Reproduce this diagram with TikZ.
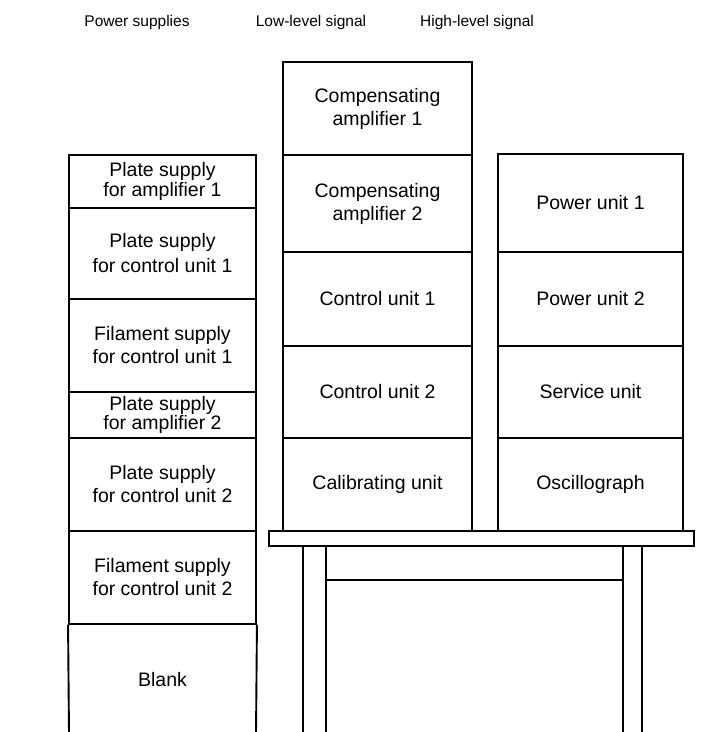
\documentclass[tikz,border=0pt]{standalone}
\usepackage{fontspec}
\setmainfont{Liberation Sans}
\begin{document}
\begin{tikzpicture}[x=1pt,y=-1pt,
  ln/.style={line width=1.9pt},
  unitbox/.style={draw, ln, inner sep=0pt, align=center, font=\fontsize{19.5}{23}\selectfont},
  headtext/.style={inner sep=0pt, font=\fontsize{15.5}{18}\selectfont},
  lcol/.style={unitbox, minimum width=187pt},
  mcol/.style={unitbox, minimum width=189pt},
  rcol/.style={unitbox, minimum width=185pt}]
\useasboundingbox (0,0) rectangle (716,732);
% headers
\node[headtext] (h1) at (137,22) {Power supplies};
\node[headtext] (h2) at (311,22) {Low-level signal};
\node[headtext] (h3) at (477,22) {High-level signal};
% left column: power supplies
\node[lcol, minimum height=53pt, font=\fontsize{19.5}{20}\selectfont] (p1) at (162.5,181.5) {Plate supply\\for amplifier 1};
\node[lcol, minimum height=91pt, font=\fontsize{19.5}{25}\selectfont] (p2) at (162.5,253.5) {Plate supply\\for control unit 1};
\node[lcol, minimum height=93pt] (p3) at (162.5,345.5) {Filament supply\\for control unit 1};
\node[lcol, minimum height=46pt, font=\fontsize{19.5}{19.5}\selectfont] (p4) at (162.5,415) {Plate supply\\for amplifier 2};
\node[lcol, minimum height=93pt] (p5) at (162.5,484.5) {Plate supply\\for control unit 2};
\node[lcol, minimum height=93pt] (p6) at (162.5,577.5) {Filament supply\\for control unit 2};
\node[unitbox, draw=none] (p7) at (162.5,680) {Blank};
\draw[ln] (p6.south west) -- (69,734);
\draw[ln] (p6.south east) -- (256,734);
% middle column: low-level signal
\node[mcol, minimum height=93pt] (m1) at (377.5,108.5) {Compensating\\amplifier 1};
\node[mcol, minimum height=97pt] (m2) at (377.5,203.5) {Compensating\\amplifier 2};
\node[mcol, minimum height=94pt] (m3) at (377.5,299) {Control unit 1};
\node[mcol, minimum height=92pt] (m4) at (377.5,392) {Control unit 2};
\node[mcol, minimum height=93pt] (m5) at (377.5,484.5) {Calibrating unit};
% right column: high-level signal
\node[rcol, minimum height=98pt] (r1) at (590.5,203) {Power unit 1};
\node[rcol, minimum height=94pt] (r2) at (590.5,299) {Power unit 2};
\node[rcol, minimum height=92pt] (r3) at (590.5,392) {Service unit};
\node[rcol, minimum height=93pt] (r4) at (590.5,484.5) {Oscillograph};
% table
\node[draw, ln, inner sep=0pt, minimum width=425pt, minimum height=15pt] (top) at (481.5,538.5) {};
\coordinate (lo) at (303,546);
\coordinate (li) at (326,546);
\coordinate (ri) at (623,546);
\coordinate (ro) at (642,546);
\draw[ln] (lo) -- (303,734);
\draw[ln] (li) -- (326,734);
\draw[ln] (ri) -- (623,734);
\draw[ln] (ro) -- (642,734);
\coordinate (bl) at (326,580);
\coordinate (br) at (623,580);
\draw[ln] (bl) -- (br);
\end{tikzpicture}
\end{document}
